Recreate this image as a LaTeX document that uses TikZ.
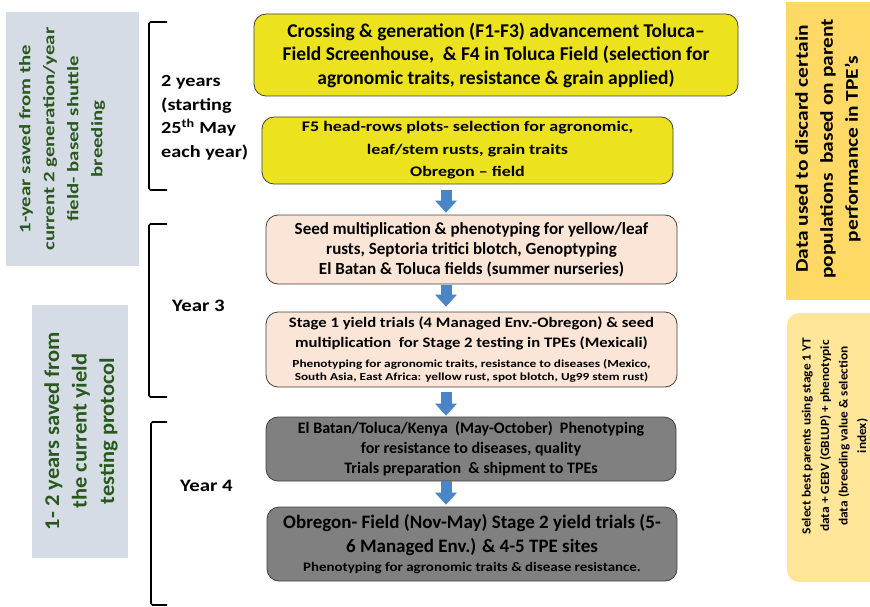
\documentclass[tikz,border=0pt]{standalone}
\usepackage{fontspec}
\setmainfont{Carlito}
\newfontfamily\widerfont{Carlito}[Ligatures=TeX,FakeStretch=1.07]
\newfontfamily\widefont{Carlito}[Ligatures=TeX,FakeStretch=1.15]
\newfontfamily\broadfont{Carlito}[Ligatures=TeX,FakeStretch=1.19]
\newfontfamily\broaderfont{Carlito}[Ligatures=TeX,FakeStretch=1.23]
\newfontfamily\broadestfont{Carlito}[Ligatures=TeX,FakeStretch=1.3]
\usepackage{tikz}
\usetikzlibrary{arrows.meta}

\definecolor{boxyellow}{RGB}{236,226,30}
\definecolor{boxpeach}{RGB}{251,229,214}
\definecolor{boxgray}{RGB}{128,128,128}
\definecolor{boxedge}{RGB}{64,64,64}
\definecolor{sidegray}{RGB}{214,220,229}
\definecolor{savedgreen}{RGB}{40,88,30}
\definecolor{datagold}{RGB}{255,217,102}
\definecolor{selectgold}{RGB}{255,230,153}
\definecolor{arrowblue}{RGB}{74,134,198}

\begin{document}
\begin{tikzpicture}[x=1pt, y=-1pt,
        flow-node/.style={rectangle,rounded corners=12pt,draw=boxedge,line width=0.8pt,inner sep=0pt,align=center},
        yellow-node/.style={flow-node,fill=boxyellow},
        peach-node/.style={flow-node,fill=boxpeach},
        gray-node/.style={flow-node,fill=boxgray},
        side-node/.style={rectangle,inner sep=0pt},
        side-text/.style={rotate=90,align=center,inner sep=0pt},
        span-brace/.style={line width=1.6pt,rounded corners=1.5pt},
        span-label/.style={align=left,anchor=west,inner sep=0pt,font=\broadfont\fontsize{17}{23.5}\selectfont\bfseries},
        step-arrow/.style={line width=11pt,arrowblue,-{Triangle[width=22pt,length=12pt,line width=0pt]}},
    ]
        \clip (0, 0) rectangle (870, 607);

        % side panels
        \node[side-node, fill=sidegray, minimum width=133pt, minimum height=254pt] (saved1) at (72.5, 139) {};
        \node[side-text, text=savedgreen, font=\broadestfont\fontsize{16}{24}\selectfont\bfseries] (saved1-text) at (62, 139) {1-year saved from the\\current 2 generation/year\\field- based shuttle\\breeding};
        \node[side-node, fill=sidegray, minimum width=96pt, minimum height=253pt] (saved2) at (80, 431.5) {};
        \node[side-text, text=savedgreen, font=\widerfont\fontsize{21}{27.5}\selectfont\bfseries] (saved2-text) at (81, 431) {1- 2 years saved from\\the current yield\\testing protocol};
        \node[side-node, fill=datagold, minimum width=84pt, minimum height=298pt] (discard) at (828, 151) {};
        \node[side-text, font=\broadfont\fontsize{18}{25}\selectfont\bfseries] (discard-text) at (828, 149) {Data used to discard certain\\populations~ based on parent\\performance in TPE’s};
        \node[side-node, fill=selectgold, rounded corners=12pt, minimum width=95pt, minimum height=269pt] (select) at (834.5, 447.5) {};
        \node[side-text, font=\widerfont\fontsize{12.5}{18.5}\selectfont\bfseries] (select-text) at (835, 436) {Select best parents using stage 1 YT\\data + GEBV (GBLUP) + phenotypic\\data (breeding value \& selection\\index)};

        % year brackets
        \draw[span-brace] (167, 22) -- (149, 22) -- (149, 190) -- (167, 190);
        \draw[span-brace] (167, 224) -- (149, 224) -- (149, 397) -- (167, 397);
        \draw[span-brace] (167, 422) -- (151, 422) -- (151, 605) -- (167, 605);
        \node[span-label] (span1) at (161, 118) {2 years\\(starting\\25\textsuperscript{th} May\\each year)};
        \node[span-label, font=\broadfont\fontsize{17.5}{23.5}\selectfont\bfseries] (span2) at (172, 306) {Year 3};
        \node[span-label, font=\broadfont\fontsize{17.5}{23.5}\selectfont\bfseries] (span3) at (180, 486) {Year 4};

        % flow boxes
        \node[yellow-node, minimum width=484pt, minimum height=82pt, font=\fontsize{19.5}{23.5}\selectfont\bfseries] (cross) at (496, 55) {Crossing \& generation (F1-F3) advancement Toluca--\\Field Screenhouse,~ \& F4 in Toluca Field (selection for\\agronomic traits, resistance \& grain applied)};
        \node[yellow-node, minimum width=411pt, minimum height=67pt, font=\broaderfont\fontsize{14.6}{22.5}\selectfont\bfseries] (rows) at (467.5, 150.5) {F5 head-rows plots- selection for agronomic,\\leaf/stem rusts, grain traits\\Obregon -- field};
        \node[peach-node, minimum width=411pt, minimum height=69pt, font=\fontsize{17}{20}\selectfont\bfseries] (seed) at (471.5, 249.5) {Seed multiplication \& phenotyping for yellow/leaf\\rusts, Septoria tritici blotch, Genoptyping\\El Batan \& Toluca fields (summer nurseries)};
        \node[peach-node, minimum width=411pt, minimum height=75pt, font=\widefont\fontsize{14.5}{19.5}\selectfont\bfseries] (stage) at (471.5, 349.5) {Stage 1 yield trials (4 Managed Env.-Obregon) \& seed\\multiplication~ for Stage 2 testing in TPEs (Mexicali)\\[0.5pt]{\broaderfont\fontsize{10.8}{13}\selectfont Phenotyping for agronomic traits, resistance to diseases (Mexico,}\\[-6.5pt]{\broaderfont\fontsize{10.8}{13}\selectfont South Asia, East Africa: yellow rust, spot blotch, Ug99 stem rust)}};
        \node[gray-node, minimum width=410pt, minimum height=64pt, font=\fontsize{16}{20}\selectfont\bfseries] (batan) at (471, 449) {El Batan/Toluca/Kenya~ (May-October)~ Phenotyping\\for resistance to diseases, quality\\Trials preparation~ \& shipment to TPEs};
        \node[gray-node, minimum width=410pt, minimum height=74pt, font=\fontsize{19}{24}\selectfont\bfseries] (obregon) at (472, 544) {Obregon- Field (Nov-May) Stage 2 yield trials (5-\\6 Managed Env.) \& 4-5 TPE sites\\[-5pt]{\widefont\fontsize{13}{15}\selectfont Phenotyping for agronomic traits \& disease resistance.}};

        % arrows
        \coordinate (flow-axis) at (446, 0);
        \draw[step-arrow] ([yshift=-6pt]rows.south -| flow-axis) -- ([yshift=2pt]seed.north -| flow-axis);
        \draw[step-arrow] ([yshift=-1pt]seed.south -| flow-axis) -- ([yshift=5pt]stage.north -| flow-axis);
        \draw[step-arrow] ([yshift=-5pt]stage.south -| flow-axis) -- ([yshift=1pt]batan.north -| flow-axis);
        \draw[step-arrow] (batan.south -| flow-axis) -- ([yshift=2pt]obregon.north -| flow-axis);
\end{tikzpicture}
\end{document}
